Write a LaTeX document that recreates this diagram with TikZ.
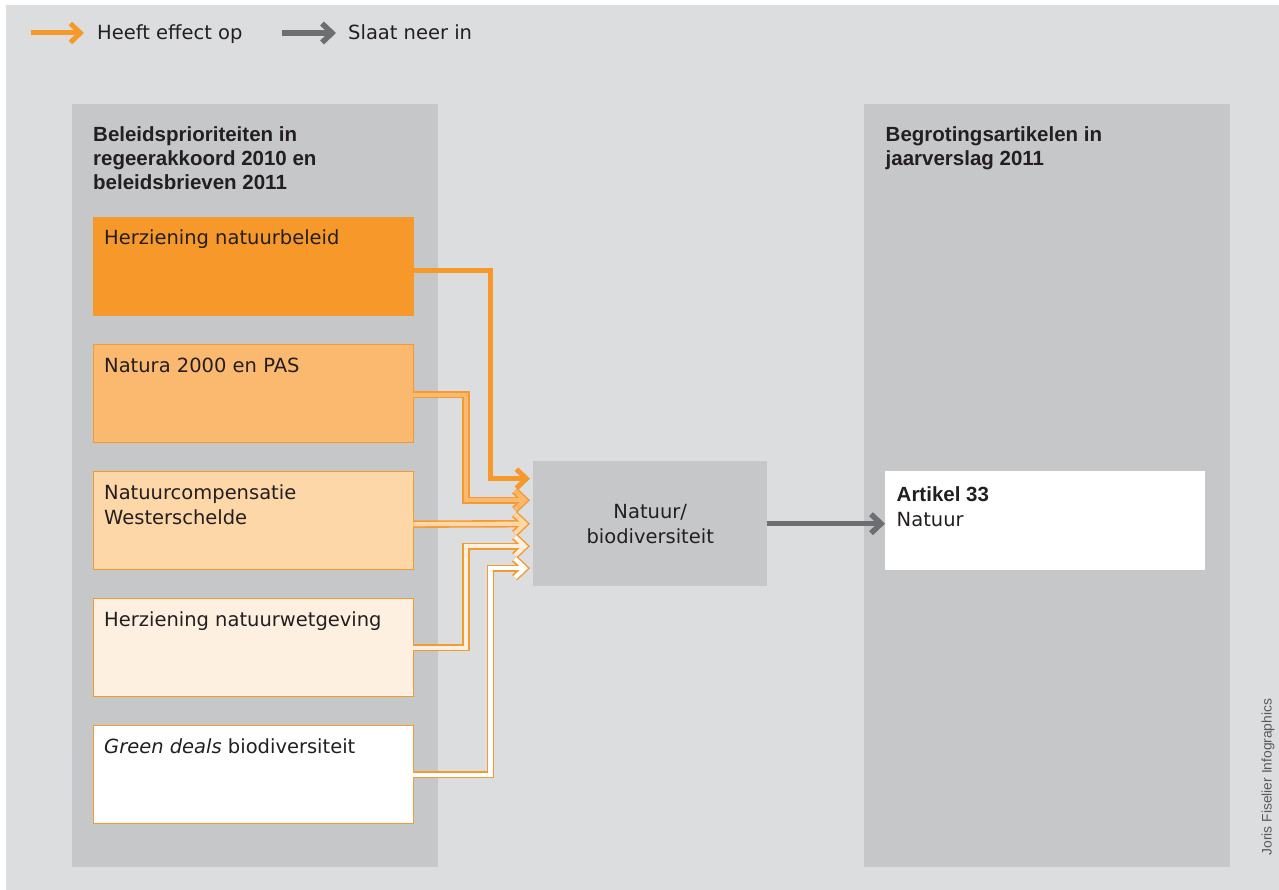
\documentclass[tikz,border=0pt]{standalone}
\usepackage{fontspec}
\setmainfont{DejaVu Sans}
\newfontfamily\lib{Liberation Sans}
\usetikzlibrary{arrows.meta,calc}
\definecolor{bg}{HTML}{DCDDDF}
\definecolor{panel}{HTML}{C6C7C9}
\definecolor{org}{HTML}{F7992A}
\definecolor{orgB}{HTML}{FBB96F}
\definecolor{orgC}{HTML}{FDD7A7}
\definecolor{orgD}{HTML}{FEF0E1}
\definecolor{gry}{HTML}{6D6E71}
\definecolor{txt}{HTML}{231F20}
\definecolor{bord}{HTML}{F49A30}
\definecolor{credit}{HTML}{58595B}
\newcommand\hollowarrow[2]{\draw[outerline] #2; \draw[innerline=#1] #2;}
\begin{document}
\begin{tikzpicture}[x=1pt,y=-1pt,
  panelbox/.style={fill=panel, draw=none, minimum width=366pt, minimum height=763pt, inner sep=0pt, anchor=north west},
  srcbox/.style={draw=bord, line width=1.4pt, minimum width=320pt, minimum height=98pt, inner sep=0pt, anchor=north west},
  body/.style={text=txt, inner sep=0pt, font=\fontsize{19.5}{25}\selectfont},
  ttl/.style={text=txt, inner sep=0pt, anchor=base west, font=\lib\bfseries\fontsize{20.5}{24}\selectfont},
  lbl/.style={body, anchor=base west},
  solidarrow/.style={draw=org, line width=5pt, -{Straight Barb[length=10pt,width=19pt]}},
  greyarrow/.style={draw=gry, line width=5.5pt, -{Straight Barb[length=10pt,width=19pt]}},
  outerline/.style={draw=bord, line width=7.4pt, -{Straight Barb[length=10pt,width=19pt]}},
  innerline/.style={draw=#1, line width=4.2pt, shorten >=2.1pt, -{Straight Barb[length=10pt,width=19pt]}},
]
\useasboundingbox (0,0) rectangle (1279,890);
\fill[bg] (6,5) rectangle (1279,890);

% legend
\coordinate (la1) at (31,33);
\coordinate (la2) at (84,33);
\coordinate (lb1) at (282,33);
\coordinate (lb2) at (336,33);
\draw[solidarrow] (la1) -- (la2);
\draw[greyarrow] (lb1) -- (lb2);
\node[lbl] (lt1) at (97,40) {Heeft effect op};
\node[lbl] (lt2) at (348,40) {Slaat neer in};

% panels
\node[panelbox] (pl) at (72,104) {};
\node[panelbox] (pr) at (864,104) {};

\node[ttl] (tl1) at (93,141.5) {Beleidsprioriteiten in};
\node[ttl] (tl2) at (93,165.5) {regeerakkoord 2010 en};
\node[ttl] (tl3) at (93,189.5) {beleidsbrieven 2011};
\node[ttl] (tr1) at (885.5,141.5) {Begrotingsartikelen in};
\node[ttl] (tr2) at (885.5,165.5) {jaarverslag 2011};

% source boxes
\node[srcbox, fill=org, draw=org] (b1) at (93,217) {};
\node[srcbox, fill=orgB] (b2) at (93,344) {};
\node[srcbox, fill=orgC] (b3) at (93,471) {};
\node[srcbox, fill=orgD] (b4) at (93,598) {};
\node[srcbox, fill=white] (b5) at (93,725) {};

\node[lbl] (t1) at ($(b1.north west)+(11,28)$) {Herziening natuurbeleid};
\node[lbl] (t2) at ($(b2.north west)+(11,28)$) {Natura 2000 en PAS};
\node[lbl] (t3a) at ($(b3.north west)+(11,28)$) {Natuurcompensatie};
\node[lbl] (t3b) at ($(b3.north west)+(11,53)$) {Westerschelde};
\node[lbl] (t4) at ($(b4.north west)+(11,28)$) {Herziening natuurwetgeving};
\node[lbl] (t5) at ($(b5.north west)+(11,28)$) {\textit{Green deals} biodiversiteit};

% centre box
\node[fill=panel, minimum width=234pt, minimum height=125pt, inner sep=0pt, anchor=north west] (c) at (533,461) {};
\node[body, anchor=base] (ct1) at ($(c.north)+(0,57)$) {Natuur/};
\node[body, anchor=base] (ct2) at ($(c.north)+(0,82)$) {biodiversiteit};

% target box
\node[fill=white, minimum width=320pt, minimum height=99pt, inner sep=0pt, anchor=north west] (r) at (885,471) {};
\node[ttl] (rt1) at ($(r.north west)+(11.5,30)$) {Artikel 33};
\node[lbl] (rt2) at ($(r.north west)+(11.5,55)$) {Natuur};

% connectors
\draw[solidarrow] ($(b1.east)+(0,4)$) -| ($(c.west)+(-42.5,-45)$) -- ($(c.west)+(-3,-45)$);
\hollowarrow{orgB}{($(b2.east)+(-1,1)$) -| ($(c.west)+(-67,-23.5)$) -- ($(c.west)+(-3,-23.5)$)}
\hollowarrow{orgC}{($(b3.east)+(-1,3.5)$) -- ($(c.west)+(-3,0)$)}
\hollowarrow{orgD}{($(b4.east)+(-1,0)$) -| ($(c.west)+(-67,22.5)$) -- ($(c.west)+(-3,22.5)$)}
\hollowarrow{white}{($(b5.east)+(-1,0)$) -| ($(c.west)+(-42.5,44.5)$) -- ($(c.west)+(-3,44.5)$)}

\draw[greyarrow] (c.east) -- (c.east -| r.west);

% credit
\node[rotate=90, inner sep=0pt, text=credit, font=\lib\fontsize{13.8}{15}\selectfont] (cr) at (1268,777) {Joris Fiselier Infographics};
\end{tikzpicture}
\end{document}
